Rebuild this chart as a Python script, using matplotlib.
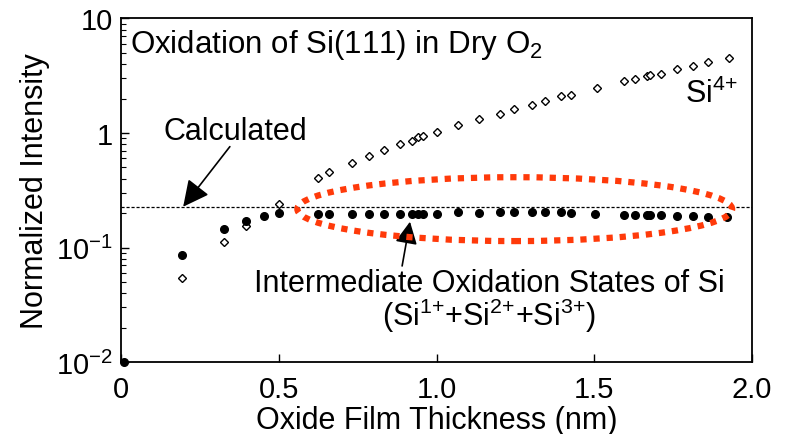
import numpy as np
import matplotlib
matplotlib.use('Agg')
import matplotlib.pyplot as plt
from matplotlib.patches import Ellipse
from matplotlib.ticker import FixedLocator, FixedFormatter, LogLocator, NullFormatter

plt.rcParams['font.family'] = ['Liberation Sans', 'DejaVu Sans']
plt.rcParams['mathtext.fontset'] = 'custom'
plt.rcParams['mathtext.rm'] = 'Liberation Sans'
plt.rcParams['mathtext.it'] = 'Liberation Sans'
plt.rcParams['mathtext.default'] = 'regular'

# Si4+ (open diamonds)
si4_x = [0.193, 0.326, 0.396, 0.502, 0.624, 0.659, 0.732, 0.786, 0.834, 0.884,
         0.922, 0.94, 0.958, 1.0, 1.069, 1.135, 1.201, 1.247, 1.302, 1.344,
         1.394, 1.425, 1.508, 1.594, 1.629, 1.666, 1.677, 1.711, 1.763, 1.812,
         1.862, 1.928]
si4_y = [0.054, 0.111, 0.153, 0.241, 0.406, 0.458, 0.55, 0.633, 0.714, 0.806,
         0.857, 0.929, 0.947, 1.03, 1.166, 1.315, 1.475, 1.61, 1.77, 1.905,
         2.09, 2.16, 2.48, 2.85, 2.99, 3.15, 3.19, 3.30, 3.60, 3.85,
         4.18, 4.53]

# intermediate states Si1+ + Si2+ + Si3+ (filled circles)
int_x = [0.01, 0.193, 0.326, 0.396, 0.453, 0.502, 0.624, 0.659, 0.732, 0.786,
         0.834, 0.884, 0.922, 0.94, 0.958, 1.0, 1.069, 1.135, 1.201, 1.247,
         1.302, 1.344, 1.394, 1.425, 1.501, 1.594, 1.629, 1.666, 1.677, 1.711,
         1.763, 1.812, 1.862, 1.922]
int_y = [0.01, 0.086, 0.146, 0.169, 0.19, 0.202, 0.198, 0.198, 0.198, 0.198,
         0.198, 0.198, 0.198, 0.198, 0.198, 0.198, 0.204, 0.201, 0.206, 0.206,
         0.206, 0.206, 0.204, 0.2, 0.197, 0.193, 0.193, 0.193, 0.193, 0.193,
         0.19, 0.188, 0.184, 0.184]

calc_level = 0.227

ytick_vals = [0.01, 0.1, 1, 10]
ytick_text = [r'10$^{-2}$', r'10$^{-1}$', '1', '10']
xtick_vals = [0, 0.5, 1.0, 1.5, 2.0]
xtick_text = ['0', '0.5', '1.0', '1.5', '2.0']

fig = plt.figure(figsize=(7.92, 4.35), dpi=100)
ax = fig.add_axes([0.1528, 0.1655, 0.7967, 0.7897])

ax.set_yscale('log')
ax.set_xlim(0, 2.0)
ax.set_ylim(0.01, 10)

ax.axhline(calc_level, color='k', lw=0.9, ls=(0, (2.5, 1.5)), zorder=1)

ax.plot(si4_x, si4_y, ls='none', marker='D', ms=4.2, mfc='white', mec='k',
        mew=1.0, zorder=3)
ax.plot(int_x, int_y, ls='none', marker='o', ms=5.5, mfc='k', mec='k',
        zorder=4, clip_on=False)

ell = Ellipse((0.624, 0.445), 0.689, 0.186, transform=ax.transAxes,
              fill=False, ec='#ff3a0a', lw=4.5, ls=(0, (1, 1.1)), zorder=5)
ax.add_patch(ell)

ax.set_xticks(xtick_vals)
ax.set_xticklabels(xtick_text)
ax.yaxis.set_major_locator(FixedLocator(ytick_vals))
ax.yaxis.set_major_formatter(FixedFormatter(ytick_text))
ax.yaxis.set_minor_locator(LogLocator(base=10, subs=np.arange(2, 10)))
ax.yaxis.set_minor_formatter(NullFormatter())

ax.tick_params(which='major', direction='in', length=6, width=1.0,
               labelsize=21, pad=6)
ax.tick_params(which='minor', direction='in', length=3.5, width=0.8)
ax.tick_params(axis='x', pad=9)
for s in ax.spines.values():
    s.set_linewidth(1.3)

ax.set_xlabel('Oxide Film Thickness (nm)', fontsize=22, labelpad=2)
ax.set_ylabel('Normalized Intensity', fontsize=22, labelpad=4)

ax.text(0.014, 0.926, r'Oxidation of Si(111) in Dry O$_2$', transform=ax.transAxes,
        fontsize=22.5, ha='left', va='center')
ax.text(0.978, 0.757, r'Si$^{4{+}}$', transform=ax.transAxes, fontsize=22,
        ha='right', va='baseline')
ax.text(0.181, 0.672, 'Calculated', transform=ax.transAxes, fontsize=22,
        ha='center', va='center')
ax.text(0.583, 0.207, 'Intermediate Oxidation States of Si',
        transform=ax.transAxes, fontsize=22, ha='center', va='baseline')
ax.text(0.583, 0.108, r'(Si$^{1{+}}$+Si$^{2{+}}$+Si$^{3{+}}$)',
        transform=ax.transAxes, fontsize=22, ha='center', va='baseline')

ax.annotate('', xy=(0.197, calc_level), xytext=(0.345, 0.76),
            arrowprops=dict(arrowstyle='-|>', color='k', lw=1.2,
                            mutation_scale=40, shrinkA=0, shrinkB=0))
ax.annotate('', xy=(0.916, 0.168), xytext=(0.891, 0.069),
            arrowprops=dict(arrowstyle='-|>', color='k', lw=1.2,
                            mutation_scale=34, shrinkA=0, shrinkB=0))

fig.savefig('out.png', dpi=100)
